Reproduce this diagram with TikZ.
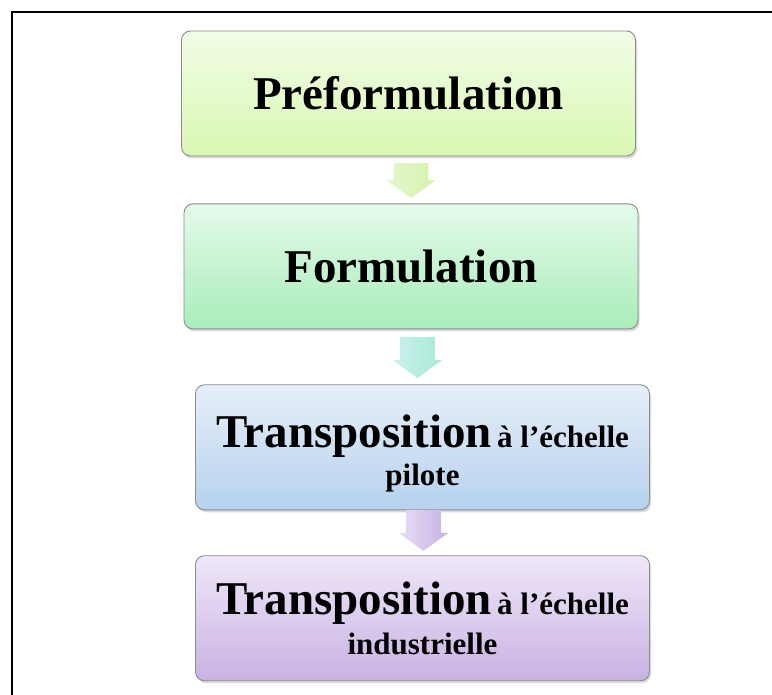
\documentclass[tikz,border=0pt]{standalone}
\usepackage{fontspec}
\setmainfont{Liberation Serif}
\usepackage{color}
\usetikzlibrary{positioning}
\usetikzlibrary{calc, shapes, shadows}

\definecolor{preA}{HTML}{F1FCE6}
\definecolor{preB}{HTML}{DAF8B3}
\definecolor{formA}{HTML}{E4FAEA}
\definecolor{formB}{HTML}{A9EDB9}
\definecolor{pilA}{HTML}{E7EFF9}
\definecolor{pilB}{HTML}{B6D2EE}
\definecolor{indA}{HTML}{EFE7F8}
\definecolor{indB}{HTML}{C9B2E3}
\definecolor{flA}{HTML}{E6F8CC}
\definecolor{flB}{HTML}{D4F2AC}
\definecolor{flC}{HTML}{C8F2EC}
\definecolor{flD}{HTML}{A8E9D6}
\definecolor{flE}{HTML}{E8DFF6}
\definecolor{flF}{HTML}{C6B1E4}
\definecolor{cadre}{HTML}{8C8C8C}

\newcommand{\grand}{\fontsize{47}{38}\selectfont}
\newcommand{\petit}{\fontsize{31}{38}\selectfont}

\begin{document}
\begin{tikzpicture}[x=1pt,y=-1pt,node distance=47pt,semithick]
 \tikzstyle{stage node}=[rectangle,rounded corners=9pt,draw=cadre,line width=0.9pt,minimum width=454pt,minimum height=125pt,inner sep=0,align=center,font=\petit\bfseries,drop shadow={opacity=0.3,shadow xshift=1.5pt,shadow yshift=-2.5pt}]
 \tikzstyle{arrow node}=[single arrow,rotate=-90,draw=none,inner sep=0,inner ysep=17pt,minimum height=41pt,single arrow head extend=7.5pt,single arrow tip angle=108,anchor=tip]

 \useasboundingbox (0,0) rectangle (772,695);
 \draw[line width=1.5pt] (12,710) -- (12,12) -- (790,12);

       \node[stage node,top color=preA,bottom color=preB] (pre) at (408.5,93.5) {\grand Préformulation};
       \node[stage node,top color=formA,bottom color=formB] (form) [below=47pt of pre,xshift=2.5pt] {\grand Formulation};
       \node[stage node,top color=pilA,bottom color=pilB] (pil) [below=55pt of form,xshift=11.5pt]
            {\rule{0pt}{44pt}{\grand Transposition}\,{\petit à l’échelle}\\{\petit pilote}};
       \node[stage node,top color=indA,bottom color=indB] (ind) [below=45pt of pil]
            {{\grand Transposition}\,{\petit à l’échelle}\\[2pt]{\petit industrielle}};

       \node[arrow node,minimum height=35pt,left color=flA,right color=flB] (f1) at ([yshift=5pt]form.north) {};
       \node[arrow node,left color=flC,right color=flD] (f2) at ([xshift=-5pt,yshift=6pt]pil.north) {};
       \node[arrow node,left color=flE,right color=flF] (f3) at ([xshift=1pt,yshift=4pt]ind.north) {};
 \end{tikzpicture}
\end{document}
